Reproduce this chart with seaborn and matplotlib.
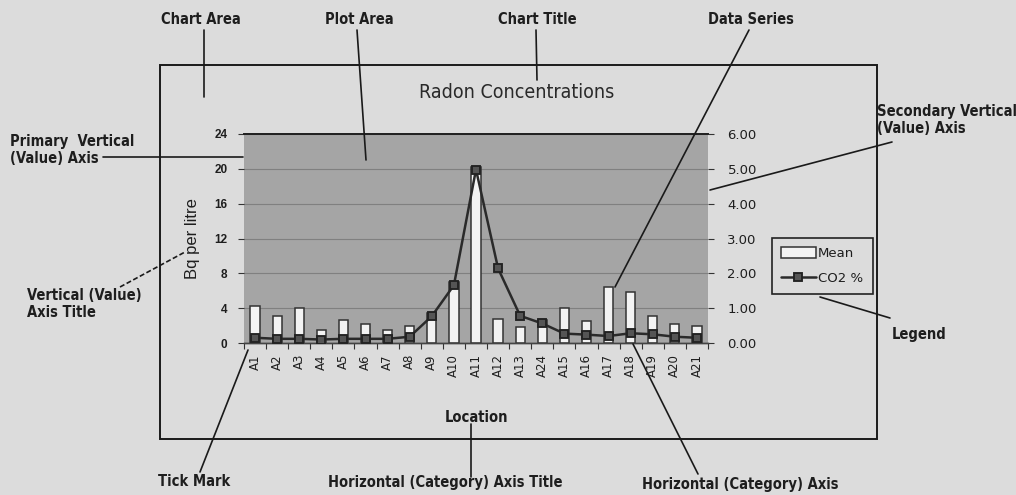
import numpy as np
import pandas as pd
import matplotlib
matplotlib.use("Agg")
import matplotlib.pyplot as plt
from matplotlib.lines import Line2D
from matplotlib.patches import Rectangle
import seaborn as sns

# Sampling locations and measurements
locations = ["A1", "A2", "A3", "A4", "A5", "A6", "A7", "A8", "A9", "A10", "A11",
             "A12", "A13", "A24", "A15", "A16", "A17", "A18", "A19", "A20", "A21"]
mean_bq = [4.2, 3.1, 4.0, 1.5, 2.6, 2.2, 1.5, 2.0, 3.4, 7.0, 20.2,
           2.8, 1.8, 2.6, 4.0, 2.5, 6.4, 5.8, 3.1, 2.2, 1.9]
co2_pct = [0.15, 0.12, 0.12, 0.10, 0.12, 0.12, 0.12, 0.18, 0.77, 1.66, 4.98,
           2.14, 0.78, 0.56, 0.27, 0.24, 0.20, 0.28, 0.25, 0.18, 0.15]
primary_ticks = [0, 4, 8, 12, 16, 20, 24]
secondary_ticks = [0, 1, 2, 3, 4, 5, 6]

df = pd.DataFrame({"Location": locations, "Mean": mean_bq, "CO2": co2_pct})

sns.set_theme(style="white")
plain = ["Liberation Sans", "DejaVu Sans"]
plt.rcParams["font.family"] = ["DejaVu Sans"]

PAGE = "#dcdcdc"
PLOT = "#a5a5a5"
INK = "#1e1e1e"

W, H = 1016, 495
fig = plt.figure(figsize=(W / 100, H / 100), dpi=100, facecolor=PAGE)

def px_box(x0, y0, x1, y1):
    return [x0 / W, 1 - y1 / H, (x1 - x0) / W, (y1 - y0) / H]

ax = fig.add_axes(px_box(244, 134, 708, 343))
ax.set_facecolor(PLOT)

sns.barplot(data=df, x="Location", y="Mean", ax=ax, width=0.42,
            color="#f3f3f3", edgecolor="#333333", linewidth=1.1,
            saturation=1, label="Mean", zorder=3)

ax.set_ylim(0, 24)
ax.set_yticks(primary_ticks)
ax.set_yticklabels([str(t) for t in primary_ticks], fontsize=8.5,
                   fontweight="bold", color=INK, family=plain)
ax.yaxis.grid(True, color="#808080", linewidth=0.8, zorder=0)
ax.set_axisbelow(True)
ax.set_ylabel("Bq per litre", fontsize=12, color=INK, family=plain, labelpad=10)
ax.set_xlabel("Location", fontsize=10.5, fontweight="bold", color=INK,
              labelpad=24, fontstretch="condensed")

ax2 = ax.twinx()
sns.pointplot(data=df, x="Location", y="CO2", ax=ax2, color="#2a2a2a",
              markers="s", markersize=5.5, linewidth=1.8, errorbar=None,
              markerfacecolor="#555555", markeredgecolor="#222222",
              label="CO2 %", zorder=5)
ax2.set_ylim(0, 6)
ax2.set_yticks(secondary_ticks)
ax2.set_yticklabels([f"{t:.2f}" for t in secondary_ticks], fontsize=9.5,
                    color=INK)
ax2.set_ylabel("")
ax2.tick_params(axis="y", direction="out", length=4, width=0.8,
                color="#333333", pad=10, right=True)

# Collect series handles, then drop the per-axes legends seaborn adds
h1, l1 = ax.get_legend_handles_labels()
h2, l2 = ax2.get_legend_handles_labels()
for a in (ax, ax2):
    if a.get_legend() is not None:
        a.get_legend().remove()

n = len(locations)
ax.set_xlim(-0.5, n - 0.5)
ax.set_xticks(range(n))
ax.set_xticklabels(locations, rotation=90, fontsize=8.5, color=INK)
ax.set_xticks(np.arange(-0.5, n, 1.0), minor=True)
ax.tick_params(axis="x", which="major", length=0, pad=8)
ax.tick_params(axis="x", which="minor", direction="out", length=4,
               width=0.8, color="#333333", bottom=True)
ax.tick_params(axis="y", direction="out", length=4, width=0.8,
               color="#333333", pad=8, left=True)

for a in (ax, ax2):
    for side in ("left", "right"):
        a.spines[side].set_visible(False)
    a.spines["top"].set_visible(True)
    a.spines["top"].set_color("#222222")
    a.spines["top"].set_linewidth(1.3)
    a.spines["bottom"].set_color("#444444")
    a.spines["bottom"].set_linewidth(1.0)

leg = fig.legend(h1 + h2, l1 + l2, loc="upper left",
                 bbox_to_anchor=(772 / W, 1 - 238 / H), borderaxespad=0,
                 frameon=True, fancybox=False, facecolor=PAGE, framealpha=1,
                 edgecolor="#222222", fontsize=9.5, handlelength=2.6,
                 handleheight=0.9, borderpad=0.7, labelspacing=0.9,
                 handletextpad=0.2)
leg.get_frame().set_linewidth(1.2)
for t in leg.get_texts():
    t.set_color(INK)

# Overlay in pixel coordinates for the chart frame, title and callouts
ov = fig.add_axes([0, 0, 1, 1], zorder=10)
ov.set_xlim(0, W)
ov.set_ylim(H, 0)
ov.axis("off")
ov.patch.set_alpha(0)

ov.add_patch(Rectangle((160, 65), 717, 374, fill=False, edgecolor="#1a1a1a",
                       linewidth=1.4))
ov.text(517, 92, "Radon Concentrations", fontsize=14, color="#2a2a2a",
        ha="center", va="center", fontstretch="condensed")

lab = dict(fontsize=10.5, fontweight="bold", color=INK,
           fontstretch="condensed")

def callout(x0, y0, x1, y1, ls="-"):
    ov.add_line(Line2D([x0, x1], [y0, y1], color="#1a1a1a", linewidth=1.2,
                       linestyle=ls))

ov.text(201, 19, "Chart Area", ha="center", va="center", **lab)
callout(204, 30, 204, 97)
ov.text(359, 19, "Plot Area", ha="center", va="center", **lab)
callout(357, 30, 366, 160)
ov.text(537, 19, "Chart Title", ha="center", va="center", **lab)
callout(536, 30, 537, 80)
ov.text(751, 19, "Data Series", ha="center", va="center", **lab)
callout(749, 30, 615, 287)

ov.text(877, 120, "Secondary Vertical\n(Value) Axis", ha="left",
        va="center", linespacing=1.1, **lab)
callout(892, 142, 710, 190)
ov.text(10, 150, "Primary  Vertical\n(Value) Axis", ha="left",
        va="center", linespacing=1.1, **lab)
callout(103, 157, 243, 157)
ov.text(27, 304, "Vertical (Value)\nAxis Title", ha="left",
        va="center", linespacing=1.1, **lab)
callout(120, 287, 185, 252, ls=(0, (3, 1.5)))
ov.text(194, 481, "Tick Mark", ha="center", va="center", **lab)
callout(200, 472, 248, 350)
ov.text(445, 483, "Horizontal (Category) Axis Title", ha="center",
        va="center", **lab)
callout(471, 424, 471, 477)
ov.text(642, 484, "Horizontal (Category) Axis", ha="left", va="center",
        **lab)
callout(633, 344, 698, 474)
ov.text(892, 334, "Legend", ha="left", va="center", **lab)
callout(820, 297, 890, 318)

fig.savefig("out.png", dpi=100, facecolor=PAGE)
